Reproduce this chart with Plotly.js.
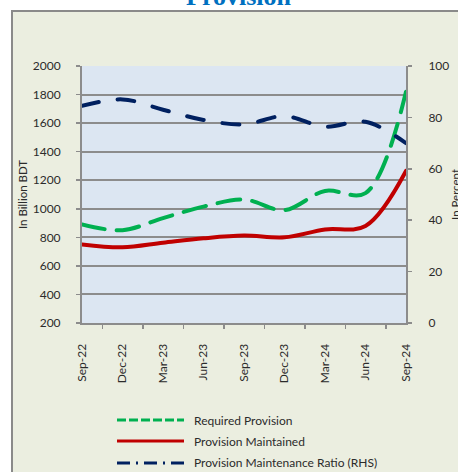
<!DOCTYPE html>
<html>
<head>
<meta charset="utf-8">
<script src="https://cdn.plot.ly/plotly-3.0.1.min.js"></script>
<style>
  html, body { margin: 0; padding: 0; background: #ffffff; }
  #frame { position: absolute; left: 11px; top: 10px; width: 460px; height: 480px;
           background: #EBEEE0; border: 2px solid #8a8a8a; box-sizing: border-box; }
  #chart { position: absolute; left: 0; top: 0; width: 458px; height: 472px; }
  #chart .scatterlayer .js-line { stroke-linecap: round; }
</style>
</head>
<body>
<div id="frame"></div>
<div id="chart"></div>
<script>
const categories = ['Sep-22','Dec-22','Mar-23','Jun-23','Sep-23','Dec-23','Mar-24','Jun-24','Sep-24'];
const requiredProvision = [890, 850, 935, 1015, 1065, 990, 1125, 1110, 1820];
const provisionMaintained = [750, 730, 762, 793, 812, 800, 855, 880, 1265];
const maintenanceRatio = [84.5, 87, 83, 79, 77.3, 80.5, 76.4, 78.3, 70];
const seriesNames = ['Required Provision', 'Provision Maintained', 'Provision Maintenance Ratio (RHS)'];

const GREEN = '#00B050', RED = '#C00000', BLUE = '#002060';
const FONT = 'Lato, "Open Sans", sans-serif';
const TXT = '#2b2b2b';

const traces = [
  { x: categories, y: requiredProvision, name: seriesNames[0], type: 'scatter', mode: 'lines',
    line: { color: GREEN, width: 4, dash: '23px,12px', shape: 'spline', smoothing: 1 }, showlegend: false },
  { x: categories, y: provisionMaintained, name: seriesNames[1], type: 'scatter', mode: 'lines',
    line: { color: RED, width: 4, shape: 'spline', smoothing: 1 }, showlegend: false },
  { x: categories, y: maintenanceRatio, name: seriesNames[2], type: 'scatter', mode: 'lines', yaxis: 'y2',
    line: { color: BLUE, width: 4, dash: '17px,19px', shape: 'spline', smoothing: 1 }, showlegend: false }
];

// custom legend (paper coordinates relative to plot area)
const plotL = 82, plotR = 406, plotT = 66, plotB = 323;
const px = v => (v - plotL) / (plotR - plotL);
const py = v => (plotB - v) / (plotB - plotT);
const legendRows = [420, 441, 463];
const legendStyles = [
  { color: GREEN, dash: '9px,3px' },
  { color: RED, dash: 'solid' },
  { color: BLUE, dash: '13px,6px,2px,6px' }
];
const shapes = legendRows.map((r, i) => ({
  type: 'line', xref: 'paper', yref: 'paper',
  x0: px(117), x1: px(184), y0: py(r), y1: py(r),
  line: { color: legendStyles[i].color, width: 3, dash: legendStyles[i].dash }
}));
const annotations = legendRows.map((r, i) => ({
  xref: 'paper', yref: 'paper', x: px(192), y: py(r), xanchor: 'left', yanchor: 'middle',
  text: seriesNames[i], showarrow: false, font: { family: FONT, size: 12, color: TXT }
}));
annotations.push({
  xref: 'paper', yref: 'paper', x: px(239), y: py(13), xanchor: 'center', yanchor: 'bottom',
  text: '<b>Provision</b>', showarrow: false,
  font: { family: '"Liberation Serif", "Times New Roman", serif', size: 26, color: '#0070C0' }
});
annotations.push({
  xref: 'paper', yref: 'paper', x: px(455), y: py(195), xanchor: 'center', yanchor: 'middle',
  text: 'In Percent', textangle: -90, showarrow: false,
  font: { family: FONT, size: 11.5, color: TXT }
});

const layout = {
  width: 458, height: 472,
  margin: { l: plotL, r: 458 - plotR, t: plotT, b: 472 - plotB, pad: 0 },
  paper_bgcolor: 'rgba(0,0,0,0)',
  plot_bgcolor: '#DCE6F2',
  font: { family: FONT, size: 12, color: TXT },
  xaxis: {
    type: 'category', tickangle: -90, ticks: 'outside', ticklen: 4, tickcolor: '#8c8c8c', tickwidth: 1.5,
    tickson: 'boundaries', showline: true, linecolor: '#8c8c8c', linewidth: 2, showgrid: false,
    ticklabelstandoff: 14, tickfont: { family: FONT, size: 12, color: TXT }, fixedrange: true
  },
  yaxis: {
    range: [200, 2000], dtick: 200, tick0: 0, ticks: 'outside', ticklen: 4, tickcolor: '#8c8c8c', tickwidth: 1.5,
    showline: true, linecolor: '#8c8c8c', linewidth: 2, showgrid: true, gridcolor: '#8c8c8c', gridwidth: 2,
    zeroline: false, ticklabelstandoff: 13,
    title: { text: 'In Billion BDT', font: { family: FONT, size: 11.5, color: TXT }, standoff: 3 },
    tickfont: { family: FONT, size: 12, color: TXT }
  },
  yaxis2: {
    overlaying: 'y', side: 'right', range: [0, 100], dtick: 20, ticks: 'outside', ticklen: 4,
    tickcolor: '#8c8c8c', tickwidth: 1.5, showline: true, linecolor: '#8c8c8c', linewidth: 2,
    showgrid: false, zeroline: false, ticklabelstandoff: 14,
    tickfont: { family: FONT, size: 12, color: TXT }
  },
  showlegend: false,
  shapes: shapes,
  annotations: annotations
};

Plotly.newPlot('chart', traces, layout, { displayModeBar: false, staticPlot: true });
</script>
</body>
</html>
